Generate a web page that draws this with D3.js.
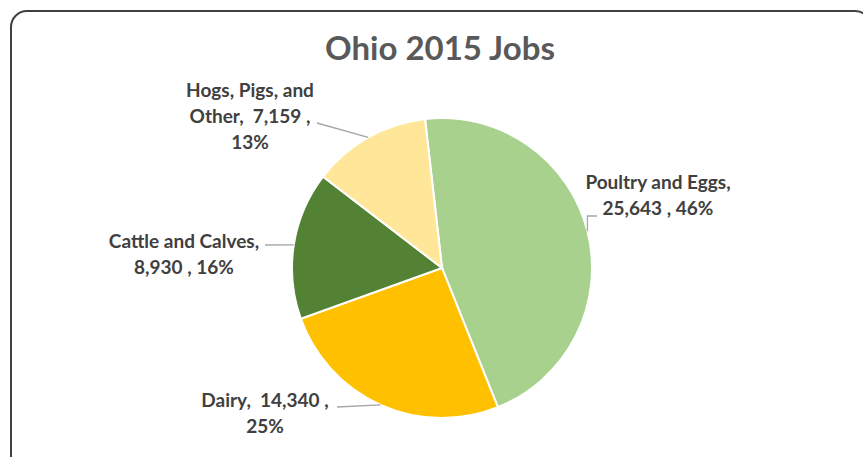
<!DOCTYPE html>
<html>
<head>
<meta charset="utf-8">
<script src="https://cdn.jsdelivr.net/npm/d3@7"></script>
<style>
  body { margin: 0; background: #fff; }
  text { font-family: Lato, "Open Sans", sans-serif; font-weight: bold; white-space: pre; }
</style>
</head>
<body>
<svg id="chart" width="863" height="457"></svg>
<script>
let categories = ["Poultry and Eggs", "Dairy", "Cattle and Calves", "Hogs, Pigs, and Other"]
let jobs = [25643, 14340, 8930, 7159]
let percents = ["46%", "25%", "16%", "13%"]
let colors = ["#A9D18E", "#FFC000", "#548235", "#FFE699"]

// label text lines and where they sit (layout only)
let label_lines = [
  ["Poultry and Eggs,", "25,643 , 46%"],
  ["Dairy,  14,340 ,", "25%"],
  ["Cattle and Calves,", "8,930 , 16%"],
  ["Hogs, Pigs, and", "Other,  7,159 ,", "13%"]
]
let label_pos = [
  {x: 658, y: 189, elbow: [597, 216]},
  {x: 265, y: 407, elbow: [337, 407]},
  {x: 184, y: 248, elbow: [265, 245]},
  {x: 250, y: 97, elbow: [317, 123]}
]

let cx = 442, cy = 268, radius = 150
let start = -6.5 * Math.PI / 180

let svg = d3.select("#chart")

svg.append("rect")
  .attr("x", 11).attr("y", 11)
  .attr("width", 860).attr("height", 460)
  .attr("rx", 16).attr("ry", 16)
  .attr("fill", "#fff")
  .attr("stroke", "#404040")
  .attr("stroke-width", 2)

svg.append("text")
  .attr("x", 440).attr("y", 60)
  .attr("text-anchor", "middle")
  .attr("font-size", 33)
  .attr("fill", "#595959")
  .text("Ohio 2015 Jobs")

let data = categories.map((c, i) => ({name: c, value: jobs[i], color: colors[i], i: i}))

let pie = d3.pie()
  .sort(null)
  .value(d => d.value)
  .startAngle(start)
  .endAngle(start + 2 * Math.PI)

let arcs = pie(data)

let arc = d3.arc().innerRadius(0).outerRadius(radius)
let rim = d3.arc().innerRadius(radius).outerRadius(radius)

let g = svg.append("g").attr("transform", `translate(${cx}, ${cy})`)

g.selectAll("path")
  .data(arcs).enter()
  .append("path")
  .attr("d", arc)
  .attr("fill", d => d.data.color)
  .attr("stroke", "#fff")
  .attr("stroke-width", 2)

// leader lines from slice rim to the label
svg.append("g").selectAll("polyline")
  .data(arcs).enter()
  .append("polyline")
  .attr("points", d => {
    let p = rim.centroid(d)
    let px = cx + p[0], py = cy + p[1]
    let e = label_pos[d.data.i].elbow
    if (d.data.i == 0) return `${e[0]},${e[1]} ${px},${e[1]} ${px},${py}`
    return `${e[0]},${e[1]} ${px},${py}`
  })
  .attr("fill", "none")
  .attr("stroke", "#A6A6A6")
  .attr("stroke-width", 1.3)

let labels = svg.append("g")
label_lines.forEach((lines, i) => {
  let t = labels.append("text")
    .attr("text-anchor", "middle")
    .attr("font-size", 19)
    .attr("fill", "#404040")
  lines.forEach((l, j) => {
    t.append("tspan")
      .attr("x", label_pos[i].x)
      .attr("y", label_pos[i].y + j * 26)
      .text(l)
  })
})
</script>
</body>
</html>
